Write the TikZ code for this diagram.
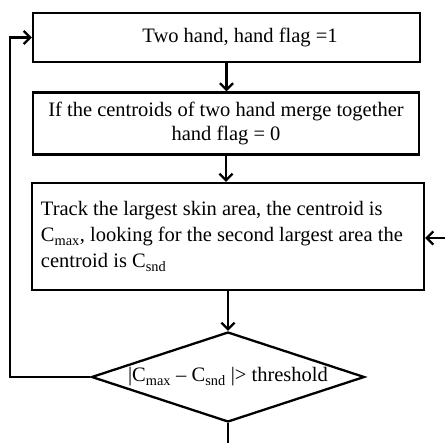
\documentclass[tikz,border=0pt]{standalone}
\usepackage{fontspec}
\setmainfont{Liberation Serif}
\usetikzlibrary{arrows.meta, positioning, shapes.geometric}

\tikzset{
  stepbox/.style={draw, line width=2.3pt, minimum width=387pt, minimum height=49pt,
    inner sep=0pt, align=center, font=\fontsize{20.5}{24}\selectfont},
  decision/.style={draw, diamond, line width=2.3pt, aspect=3, inner sep=0pt,
    minimum width=273pt, minimum height=90pt, font=\fontsize{20.5}{24}\selectfont},
  flow/.style={line width=2.3pt, -{Straight Barb[length=6.5pt,width=13pt]}},
}

\begin{document}
\begin{tikzpicture}[x=1pt, y=-1pt]
    \useasboundingbox (0,0) rectangle (445,443);

    % Steps
    \node[stepbox] (twohand) at (226.5,37.5) {\hspace*{27pt}Two hand, hand flag =1};
    \node[stepbox, minimum width=386pt, minimum height=62pt] (merge) at (226,123.5)
        {If the centroids of two hand merge together\\hand flag = 0};
    \node[stepbox, minimum width=392pt, minimum height=107pt, text width=374pt,
        align=flush left, font=\fontsize{20.5}{26}\selectfont] (track) at (228,236.5)
        {Track the largest skin area, the centroid is\\C\textsubscript{max}, looking for the second largest area the\\centroid is C\textsubscript{snd}};

    % Decision
    \node[decision] (cond) at (228,377)
        {|C\textsubscript{max} – C\textsubscript{snd} |> threshold};

    % Free ends
    \coordinate (back) at (10,377);
    \coordinate (rin) at (447,238);
    \coordinate (out) at (228,446);

    % Connectors
    \draw[flow] (twohand.south) -- (twohand.south |- merge.north);
    \draw[flow] (merge.south) -- (merge.south |- track.north);
    \draw[flow] (track.south) -- (cond.north);
    \draw[flow] (cond.west) -- (back) |- (twohand.west);
    \draw[flow] (rin) -- (rin -| track.east);
    \draw[line width=2.3pt] (cond.south) -- (out);
\end{tikzpicture}
\end{document}
